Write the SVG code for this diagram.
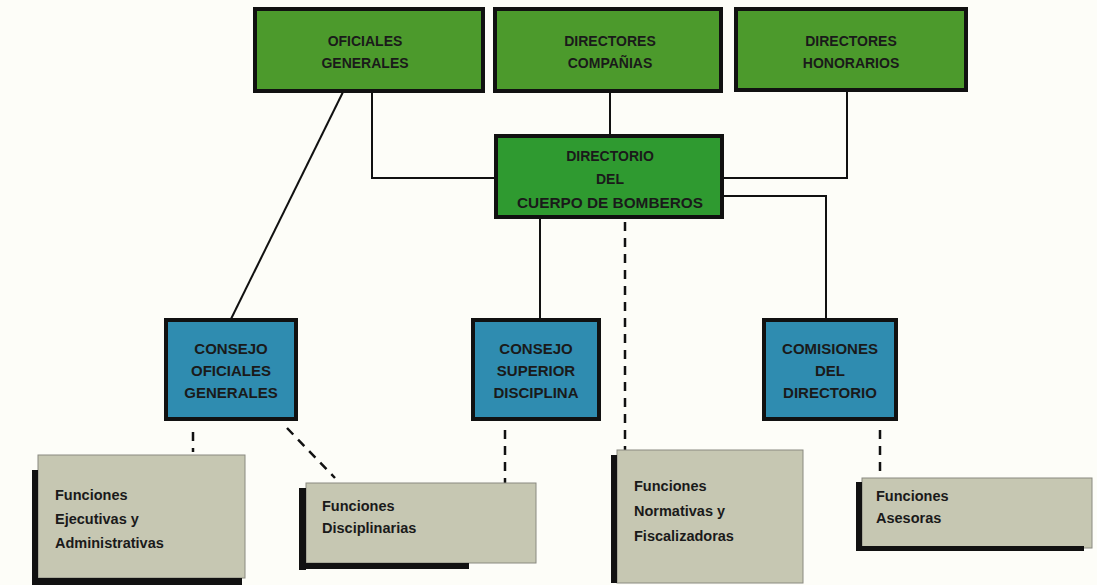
<svg xmlns="http://www.w3.org/2000/svg" width="1097" height="585" viewBox="0 0 1097 585">
<style>
.g{fill:#4c9a2c;stroke:#111;stroke-width:4}
.gd{fill:#2f9a30;stroke:#111;stroke-width:4}
.b{fill:#2f8cb0;stroke:#111;stroke-width:4}
.gr{fill:#c6c7b2;stroke:#8a8a80;stroke-width:1}
.sh{fill:#111}
.t{font-family:"Liberation Sans",Arial,sans-serif;font-weight:bold;font-size:14px;fill:#1a1a1a;text-anchor:middle}
.tb{font-size:15px}
.tl{font-family:"Liberation Sans",Arial,sans-serif;font-weight:bold;font-size:14.5px;fill:#1a1a1a}
.c{fill:none;stroke:#111;stroke-width:2}
.d{fill:none;stroke:#111;stroke-width:2.5;stroke-dasharray:9,7}
</style>
<rect width="1097" height="585" fill="#fdfdf8"/>
<g id="connectors">
<polyline class="c" points="372,92 372,178 496,178"/>
<line class="c" x1="610" y1="92" x2="610" y2="135"/>
<polyline class="c" points="847,92 847,178 723,178"/>
<line class="c" x1="343" y1="92" x2="231" y2="319"/>
<polyline class="c" points="723,196 826,196 826,319"/>
<line class="c" x1="540" y1="218" x2="540" y2="319"/>
<line class="d" x1="625" y1="222" x2="625" y2="450"/>
<line class="d" x1="193" y1="432" x2="193" y2="452"/>
<line class="d" x1="287" y1="428" x2="335" y2="478"/>
<line class="d" x1="505" y1="430" x2="505" y2="483"/>
<line class="d" x1="880" y1="430" x2="880" y2="478"/>
</g>
<g id="oficiales-generales">
<rect class="g" x="255" y="9" width="228" height="82"/>
<text class="t" x="365" y="46">OFICIALES</text>
<text class="t" x="365" y="68">GENERALES</text>
</g>
<g id="directores-companias">
<rect class="g" x="495" y="9" width="226" height="82"/>
<text class="t" x="610" y="46">DIRECTORES</text>
<text class="t" x="610" y="68">COMPAÑIAS</text>
</g>
<g id="directores-honorarios">
<rect class="g" x="736" y="9" width="230" height="81"/>
<text class="t" x="851" y="46">DIRECTORES</text>
<text class="t" x="851" y="68">HONORARIOS</text>
</g>
<g id="directorio">
<rect class="gd" x="496" y="136" width="226" height="81"/>
<text class="t" x="610" y="161">DIRECTORIO</text>
<text class="t" x="610" y="184">DEL</text>
<text class="t tb" x="610" y="208" textLength="186" lengthAdjust="spacingAndGlyphs">CUERPO DE BOMBEROS</text>
</g>
<g id="consejo-oficiales">
<rect class="b" x="166" y="320" width="130" height="99"/>
<text class="t tb" x="231" y="354">CONSEJO</text>
<text class="t tb" x="231" y="376">OFICIALES</text>
<text class="t tb" x="231" y="398">GENERALES</text>
</g>
<g id="consejo-superior">
<rect class="b" x="473" y="320" width="126" height="99"/>
<text class="t tb" x="536" y="354">CONSEJO</text>
<text class="t tb" x="536" y="376">SUPERIOR</text>
<text class="t tb" x="536" y="398">DISCIPLINA</text>
</g>
<g id="comisiones">
<rect class="b" x="764" y="320" width="132" height="99"/>
<text class="t tb" x="830" y="354">COMISIONES</text>
<text class="t tb" x="830" y="376">DEL</text>
<text class="t tb" x="830" y="398">DIRECTORIO</text>
</g>
<g id="funciones-ejecutivas">
<rect class="gr" x="38" y="455" width="207" height="123"/>
<rect class="sh" x="32" y="578" width="210" height="7"/>
<rect class="sh" x="32" y="470" width="6" height="115"/>
<text class="tl" x="55" y="500">Funciones</text>
<text class="tl" x="55" y="524">Ejecutivas y</text>
<text class="tl" x="55" y="548">Administrativas</text>
</g>
<g id="funciones-disciplinarias">
<rect class="gr" x="306" y="483" width="230" height="80"/>
<rect class="sh" x="299" y="488" width="7" height="82"/>
<rect class="sh" x="299" y="563" width="170" height="6"/>
<text class="tl" x="322" y="511">Funciones</text>
<text class="tl" x="322" y="533">Disciplinarias</text>
</g>
<g id="funciones-normativas">
<rect class="gr" x="617" y="450" width="186" height="133"/>
<rect class="sh" x="611" y="455" width="6" height="128"/>
<text class="tl" x="634" y="491">Funciones</text>
<text class="tl" x="634" y="516">Normativas y</text>
<text class="tl" x="634" y="541">Fiscalizadoras</text>
</g>
<g id="funciones-asesoras">
<rect class="gr" x="862" y="478" width="230" height="70"/>
<rect class="sh" x="856" y="482" width="6" height="68"/>
<rect class="sh" x="856" y="546" width="228" height="5"/>
<text class="tl" x="876" y="501">Funciones</text>
<text class="tl" x="876" y="523">Asesoras</text>
</g>
</svg>
